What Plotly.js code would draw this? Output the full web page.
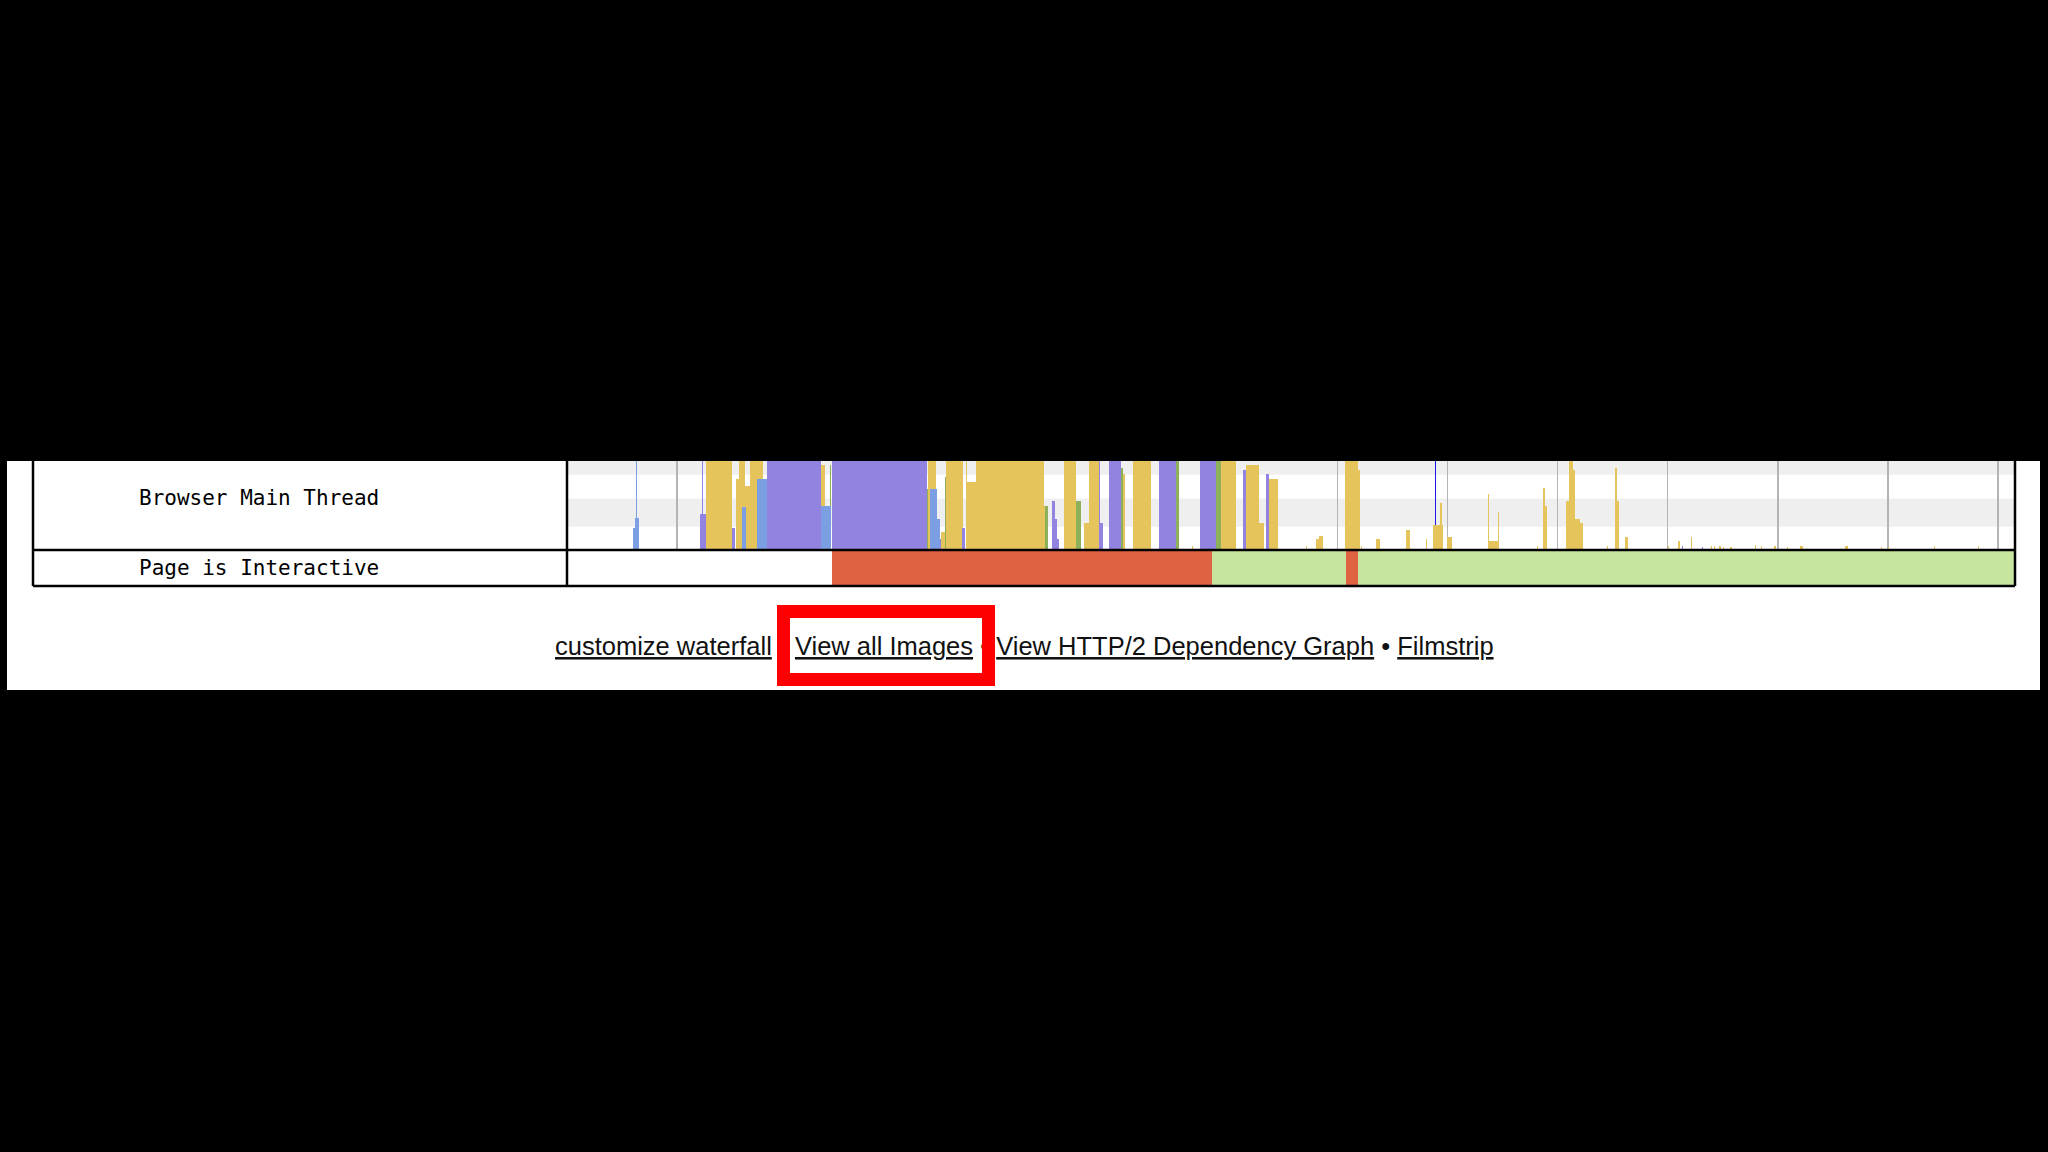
<!DOCTYPE html>
<html>
<head>
<meta charset="utf-8">
<script src="https://cdn.plot.ly/plotly-3.0.1.min.js"></script>
<style>html,body{margin:0;padding:0;background:#000;}#chart{width:2048px;height:1152px;}</style>
</head>
<body>
<div id="chart"></div>
<script>
// ---------------- DATA (time in seconds, height in % of main-thread busy) ----------------
const rowLabels = ['Browser Main Thread', 'Page is Interactive'];
const linkLabels = ['customize waterfall', 'View all Images', 'View HTTP/2 Dependency Graph', 'Filmstrip'];
const timeMax = 13.155;

// Scripting (yellow)
const scriptStart = [1.261, 1.533, 1.564, 1.620, 1.665, 2.310, 3.278, 3.400, 3.443, 3.624, 3.636, 3.716, 4.336,
  4.518, 4.700, 4.745, 5.054, 5.139, 5.680, 5.943, 6.170, 6.290, 6.382,
  6.715, 6.806, 6.836, 7.064, 7.182, 7.215, 7.352, 7.618, 7.806, 7.864, 7.934, 7.946, 7.997, 8.364, 8.374, 8.454,
  8.809, 8.864, 8.882, 9.079, 9.100, 9.136, 9.155, 9.200, 9.445, 9.525, 9.537, 9.609,
  10.005, 10.097, 10.209, 10.390, 10.420, 10.470, 10.505, 10.570, 10.790, 10.845,
  10.970, 11.085, 11.200, 11.610, 11.940, 12.000, 12.420, 12.815];
const scriptDur = [0.242, 0.031, 0.056, 0.045, 0.117, 0.035, 0.072, 0.040, 0.151, 0.012, 0.080, 0.620, 0.015,
  0.107, 0.045, 0.091, 0.015, 0.167, 0.010, 0.136, 0.120, 0.046, 0.073,
  0.012, 0.030, 0.030, 0.118, 0.018, 0.010, 0.030, 0.037, 0.010, 0.070, 0.012, 0.010, 0.046, 0.010, 0.080, 0.010,
  0.010, 0.018, 0.018, 0.021, 0.036, 0.019, 0.045, 0.027, 0.010, 0.012, 0.018, 0.027,
  0.010, 0.010, 0.012, 0.010, 0.010, 0.010, 0.010, 0.010, 0.010, 0.010,
  0.010, 0.010, 0.030, 0.030, 0.010, 0.010, 0.010, 0.010];
const scriptPct = [100, 80, 100, 72, 100, 95, 100, 20, 100, 100, 76, 100, 50,
  100, 30, 100, 85, 100, 5, 100, 95, 30, 80,
  5, 12, 16, 100, 90, 5, 12, 22, 12, 28, 53, 28, 15, 63, 10, 43,
  5, 70, 50, 55, 100, 90, 35, 30, 5, 92, 55, 15,
  5, 10, 15, 4, 4, 4, 3, 3, 6, 4,
  4, 3, 5, 5, 3, 3, 5, 5];

// Layout (purple)
const layoutStart = [1.206, 1.224, 1.503, 1.818, 2.412, 3.385, 3.585, 4.406, 4.431, 4.451, 4.836, 4.846, 4.927,
  5.375, 5.752, 6.145, 6.352, 10.134, 10.309];
const layoutDur = [0.055, 0.008, 0.025, 0.488, 0.863, 0.015, 0.030, 0.025, 0.020, 0.022, 0.010, 0.020, 0.107,
  0.158, 0.145, 0.025, 0.030, 0.008, 0.008];
const layoutPct = [40, 100, 25, 100, 100, 12, 25, 55, 35, 12, 100, 30, 100,
  100, 100, 90, 85, 4, 3];

// Loading (light blue)
const loadStart = [0.600, 0.620, 0.627, 1.588, 1.727, 2.310, 3.295, 3.365, 4.075];
const loadDur = [0.020, 0.035, 0.008, 0.036, 0.091, 0.085, 0.070, 0.020, 0.008];
const loadPct = [25, 36, 100, 48, 80, 50, 68, 35, 20];

// Painting (green)
const paintStart = [2.385, 3.272, 3.436, 3.612, 4.345, 4.625, 5.034, 5.533, 5.897];
const paintDur = [0.010, 0.008, 0.008, 0.008, 0.025, 0.045, 0.020, 0.031, 0.046];
const paintPct = [95, 68, 82, 100, 50, 55, 92, 100, 100];

// Other (dark blue)
const otherStart = [7.884];
const otherDur = [0.010];
const otherPct = [100];

// Page is Interactive
const interStart = [2.409, 5.861, 7.077, 7.182];
const interEnd = [5.861, 7.077, 7.182, 13.155];
const interState = ['blocked', 'interactive', 'blocked', 'interactive'];

// ---------------- DRAWING ----------------
const W = 2048, H = 1152;
const px = v => v / W;
const py = v => 1 - v / H;
const colors = {script: '#e6c45c', layout: '#9283e0', load: '#7b9fe2', paint: '#8db05a', other: '#1a1ae6',
  blocked: '#df6242', interactive: '#c7e59e'};

function barTrace(start, dur, pct, color) {
  return {type: 'bar', x: start, y: pct, width: dur, offset: 0,
    marker: {color: color, line: {width: 0}}, xaxis: 'x', yaxis: 'y', hoverinfo: 'skip'};
}

const traces = [
  barTrace(otherStart, otherDur, otherPct, colors.other),
  barTrace(scriptStart, scriptDur, scriptPct, colors.script),
  barTrace(layoutStart, layoutDur, layoutPct, colors.layout),
  barTrace(paintStart, paintDur, paintPct, colors.paint),
  barTrace(loadStart, loadDur, loadPct, colors.load),
  {type: 'bar', orientation: 'h', y: interStart.map(() => 0.5), base: interStart,
    x: interEnd.map((e, i) => e - interStart[i]), width: 1,
    marker: {color: interState.map(s => colors[s]), line: {width: 0}},
    xaxis: 'x2', yaxis: 'y2', hoverinfo: 'skip'}
];

const plotL = 567, plotR = 2015, rowTop = 461, rowMid = 550, rowBot = 586, tableL = 33;
const lineStyle = {color: '#000', width: 2.5};
const shapes = [
  {type: 'rect', xref: 'paper', yref: 'paper', x0: px(7), x1: px(2040), y0: py(690), y1: py(rowTop),
    fillcolor: '#ffffff', line: {width: 0}, layer: 'below'},
  {type: 'rect', xref: 'paper', yref: 'y', x0: px(plotL), x1: px(plotR), y0: 26, y1: 58,
    fillcolor: '#efefef', line: {width: 0}, layer: 'below'},
  {type: 'rect', xref: 'paper', yref: 'y', x0: px(plotL), x1: px(plotR), y0: 84.5, y1: 100,
    fillcolor: '#efefef', line: {width: 0}, layer: 'below'},
  {type: 'line', xref: 'paper', yref: 'paper', x0: px(tableL), x1: px(tableL), y0: py(rowTop), y1: py(rowBot), line: lineStyle},
  {type: 'line', xref: 'paper', yref: 'paper', x0: px(plotL), x1: px(plotL), y0: py(rowTop), y1: py(rowBot), line: lineStyle},
  {type: 'line', xref: 'paper', yref: 'paper', x0: px(plotR), x1: px(plotR), y0: py(rowTop), y1: py(rowBot), line: lineStyle},
  {type: 'line', xref: 'paper', yref: 'paper', x0: px(tableL), x1: px(plotR), y0: py(rowMid), y1: py(rowMid), line: lineStyle},
  {type: 'line', xref: 'paper', yref: 'paper', x0: px(tableL), x1: px(plotR), y0: py(rowBot), y1: py(rowBot), line: lineStyle}
];

const linkText = linkLabels.map(t => '<u>' + t + '</u>').join(' • ');
const annotations = [
  {xref: 'paper', yref: 'paper', x: px(137), y: py(498), xanchor: 'left', yanchor: 'middle', showarrow: false,
    text: rowLabels[0], font: {family: 'DejaVu Sans Mono', size: 21, color: '#000'}},
  {xref: 'paper', yref: 'paper', x: px(137), y: py(568), xanchor: 'left', yanchor: 'middle', showarrow: false,
    text: rowLabels[1], font: {family: 'DejaVu Sans Mono', size: 21, color: '#000'}},
  {xref: 'paper', yref: 'paper', x: px(1024.5), y: py(646), xanchor: 'center', yanchor: 'middle', showarrow: false,
    text: linkText, font: {family: 'Liberation Sans, Arial', size: 25.5, color: '#111'}},
  // red highlight frame drawn above the link text
  {xref: 'paper', yref: 'paper', x: px(886), y: py(645.5), xanchor: 'center', yanchor: 'middle', showarrow: false,
    text: ' ', width: 192, height: 55, borderpad: 0, borderwidth: 13, bordercolor: '#ff0000',
    bgcolor: 'rgba(0,0,0,0)', font: {size: 10, color: 'rgba(0,0,0,0)'}}
];

const layout = {
  width: W, height: H, margin: {l: 0, r: 0, t: 0, b: 0},
  paper_bgcolor: '#000000', plot_bgcolor: 'rgba(0,0,0,0)', showlegend: false,
  barmode: 'overlay', bargap: 0,
  xaxis: {domain: [px(plotL), px(plotR)], range: [0, timeMax], tick0: 0, dtick: 1, showgrid: true,
    gridcolor: '#b4b4b4', gridwidth: 1.5, zeroline: false, showticklabels: false, ticks: '', showline: false, anchor: 'y'},
  yaxis: {domain: [py(rowMid), py(rowTop)], range: [0, 100], showgrid: false, zeroline: false,
    showticklabels: false, ticks: '', showline: false, anchor: 'x'},
  xaxis2: {domain: [px(plotL), px(plotR)], range: [0, timeMax], showgrid: false, zeroline: false,
    showticklabels: false, ticks: '', showline: false, anchor: 'y2'},
  yaxis2: {domain: [py(rowBot), py(rowMid)], range: [0, 1], showgrid: false, zeroline: false,
    showticklabels: false, ticks: '', showline: false, anchor: 'x2'},
  shapes: shapes, annotations: annotations, hovermode: false
};

Plotly.newPlot('chart', traces, layout, {staticPlot: true, displayModeBar: false});
</script>
</body>
</html>
